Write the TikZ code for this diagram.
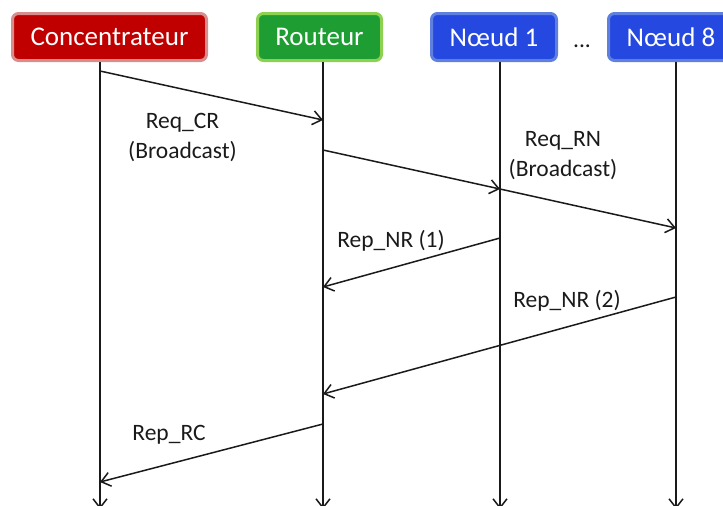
\documentclass[tikz,border=0pt]{standalone}
\usepackage{fontspec}
\setmainfont{Carlito}
\usetikzlibrary{arrows.meta}
\definecolor{redfill}{RGB}{192,0,0}
\definecolor{redline}{RGB}{217,140,140}
\definecolor{greenfill}{RGB}{30,158,50}
\definecolor{greenline}{RGB}{140,210,80}
\definecolor{bluefill}{RGB}{37,72,224}
\definecolor{blueline}{RGB}{96,128,224}
\definecolor{ink}{RGB}{26,26,26}
\begin{document}
\begin{tikzpicture}[x=1pt,y=-1pt,
  header/.style={rounded corners=6pt, line width=3pt, text=white,
    font=\fontsize{27}{32}\selectfont, minimum height=47pt, inner sep=0pt},
  msg/.style={draw=ink, line width=1.5pt,
    -{Straight Barb[length=9pt,width=14pt,line width=1.5pt]}},
  lbl/.style={text=ink, font=\fontsize{23.5}{30}\selectfont, align=center, inner sep=0pt}]
\useasboundingbox (0,0) rectangle (723,506);

% headers
\node[header, fill=redfill, draw=redline, minimum width=194pt] (conc) at (109.5,37) {Concentrateur};
\node[header, fill=greenfill, draw=greenline, minimum width=124pt] (rout) at (319.5,37) {Routeur};
\node[header, fill=bluefill, draw=blueline, minimum width=125pt] (n1) at (494,37) {Nœud 1};
\node[header, fill=bluefill, draw=blueline, minimum width=125pt] (n8) at (671,37) {Nœud 8};
\node[lbl, anchor=base] (dots) at (582,47) {...};

% lifelines
\coordinate (cT) at (100,62);  \coordinate (cB) at (100,509);
\coordinate (rT) at (323,62);  \coordinate (rB) at (323,509);
\coordinate (aT) at (500,62);  \coordinate (aB) at (500,509);
\coordinate (bT) at (676,62);  \coordinate (bB) at (676,509);
\draw[msg] (cT) -- (cB);
\draw[msg] (rT) -- (rB);
\draw[msg] (aT) -- (aB);
\draw[msg] (bT) -- (bB);

% message points
\coordinate (m1s) at (100,71);  \coordinate (m1e) at (323,120);
\coordinate (m2s) at (323,150); \coordinate (m2e) at (500,189);
\coordinate (m3e) at (676,228);
\coordinate (m4s) at (500,238); \coordinate (m4e) at (323,287);
\coordinate (m5s) at (676,297); \coordinate (m5e) at (323,394);
\coordinate (m6s) at (323,424); \coordinate (m6e) at (100,482);

\draw[msg] (m1s) -- (m1e);
\draw[msg] (m2s) -- (m2e);
\draw[msg] (m2e) -- (m3e);
\draw[msg] (m4s) -- (m4e);
\draw[msg] (m5s) -- (m5e);
\draw[msg] (m6s) -- (m6e);

% labels
\node[lbl] (l1) at (182.5,137.5) {Req\_CR\\(Broadcast)};
\node[lbl] (l2) at (563,155.5) {Req\_RN\\(Broadcast)};
\node[lbl, anchor=base] (l3) at (391,247) {Rep\_NR (1)};
\node[lbl, anchor=base] (l4) at (567,307) {Rep\_NR (2)};
\node[lbl, anchor=base] (l5) at (169,440) {Rep\_RC};
\end{tikzpicture}
\end{document}
